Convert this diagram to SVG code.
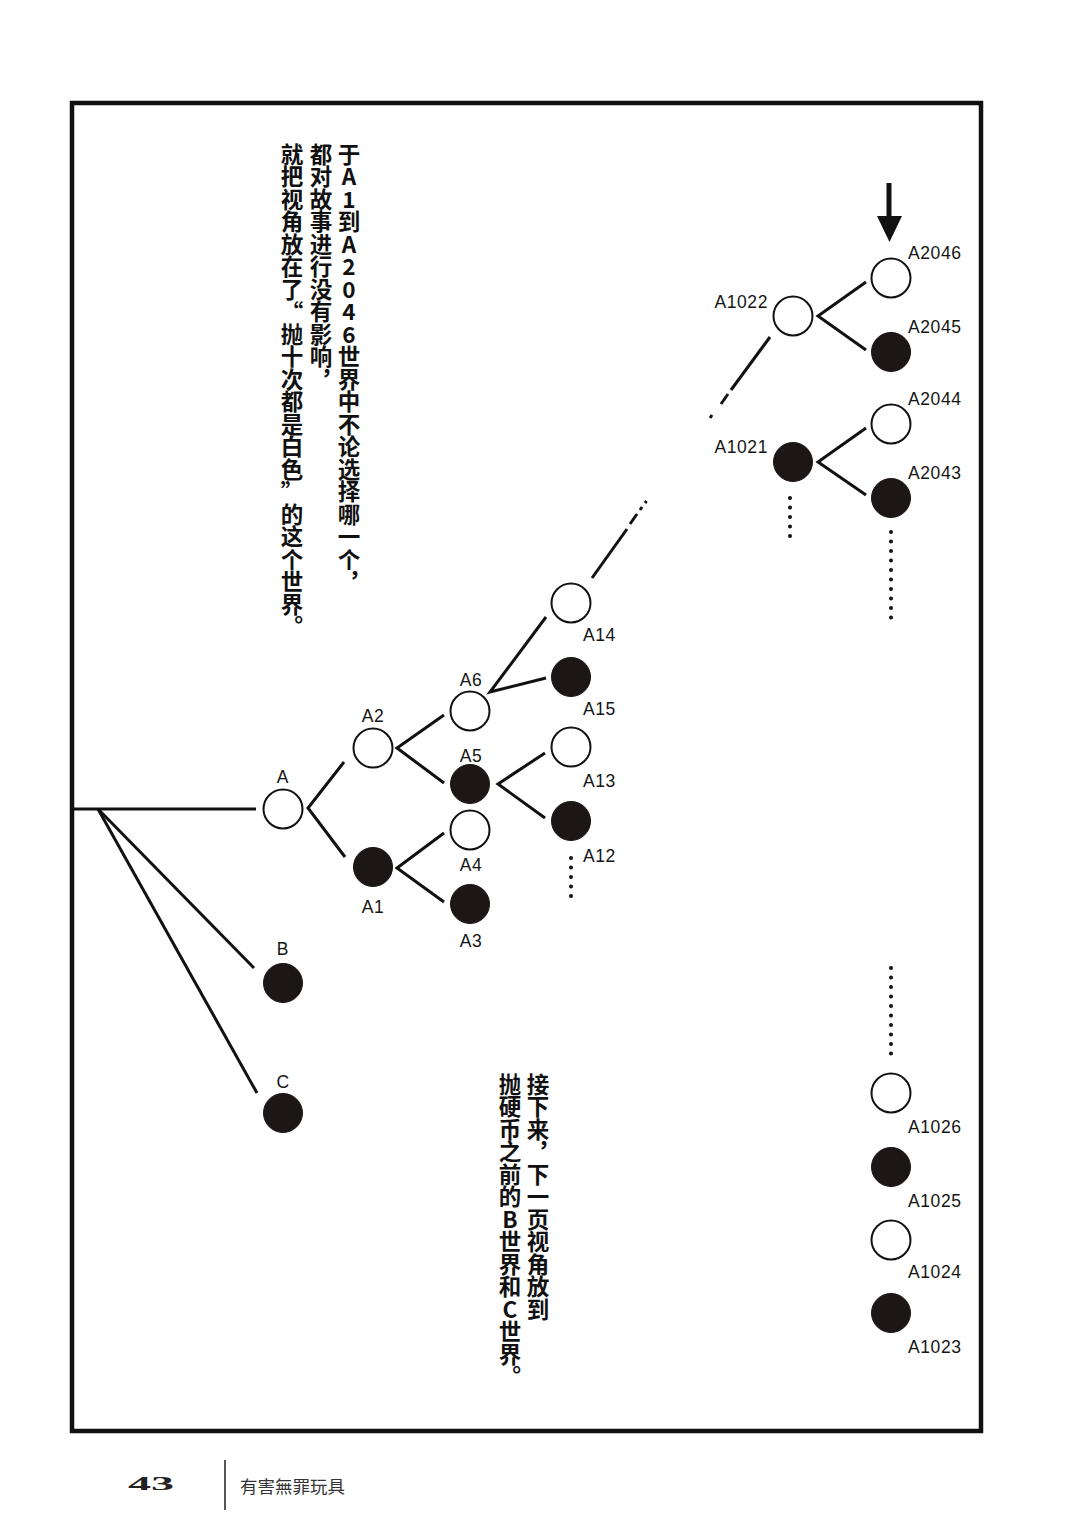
<svg xmlns="http://www.w3.org/2000/svg" width="1080" height="1536" viewBox="0 0 1080 1536">
<style>
.frame{fill:none;stroke:#111;stroke-width:4.5}
.ln{stroke:#111;stroke-width:3;fill:none;stroke-linecap:butt}
.dot{stroke:#111;stroke-width:4;stroke-linecap:round;stroke-dasharray:0 9.5;fill:none}
.w{fill:#fff;stroke:#111;stroke-width:2}
.b{fill:#1c1616;stroke:#1c1616;stroke-width:1}
.lab{font-family:"Liberation Sans",Arial,sans-serif;font-size:17.5px;fill:#151515;letter-spacing:0.6px}
.c{text-anchor:middle}
.e{text-anchor:end}
.vt{font-family:"Noto Sans CJK SC",sans-serif;font-size:22.5px;font-weight:bold;fill:#111;writing-mode:vertical-rl;text-orientation:upright}
.q{font-feature-settings:"vert" 0,"vrt2" 0}
</style>
<rect class="frame" x="72" y="103" width="909" height="1328"/>

<g id="connectors">
<line class="ln" x1="72" y1="809" x2="256" y2="809"/>
<line class="ln" x1="98" y1="809" x2="254" y2="968"/>
<line class="ln" x1="98" y1="809" x2="257" y2="1093"/>
<polyline class="ln" points="344,762 308,808 345,857"/>
<polyline class="ln" points="444,715 397,748 444,783"/>
<polyline class="ln" points="444,833 397,868 444,902"/>
<polyline class="ln" points="546,617 490,692 546,678"/>
<polyline class="ln" points="545,753 498,784 545,818"/>
<line class="ln" x1="592" y1="578" x2="627" y2="529"/>
<line class="ln" x1="630" y1="524" x2="637" y2="514"/>
<line class="ln" x1="640" y1="510" x2="642" y2="507"/>
<line class="ln" x1="645" y1="503" x2="646.5" y2="501"/>
<polyline class="ln" points="866,282 818,316 866,350"/>
<polyline class="ln" points="866,428 818,462 866,495"/>
<line class="ln" x1="770" y1="337" x2="731" y2="390"/>
<line class="ln" x1="728" y1="394" x2="721" y2="404"/>
<line class="ln" x1="712" y1="415" x2="710" y2="418"/>
<line class="dot" x1="571" y1="858" x2="571" y2="903"/>
<line class="dot" x1="790" y1="498" x2="790" y2="544"/>
<line class="dot" x1="891" y1="532" x2="891" y2="621"/>
<line class="dot" x1="891" y1="968" x2="891" y2="1056"/>
<rect x="886.5" y="183" width="5" height="35" fill="#111"/>
<polygon points="877,216 902,216 889.5,242" fill="#111"/>
</g>

<g id="node-A"><circle class="w" cx="283" cy="809" r="19.5"/><text class="lab c" x="283" y="783">A</text></g>
<g id="node-B"><circle class="b" cx="283" cy="983" r="19.5"/><text class="lab c" x="283" y="955">B</text></g>
<g id="node-C"><circle class="b" cx="283" cy="1113" r="19.5"/><text class="lab c" x="283" y="1088">C</text></g>
<g id="node-A2"><circle class="w" cx="373" cy="748" r="19.5"/><text class="lab c" x="373" y="722">A2</text></g>
<g id="node-A1"><circle class="b" cx="373" cy="867" r="19.5"/><text class="lab c" x="373" y="913">A1</text></g>
<g id="node-A6"><circle class="w" cx="470" cy="711" r="19.5"/><text class="lab c" x="471" y="686">A6</text></g>
<g id="node-A5"><circle class="b" cx="470" cy="784" r="19.5"/><text class="lab c" x="471" y="762">A5</text></g>
<g id="node-A4"><circle class="w" cx="470" cy="830" r="19.5"/><text class="lab c" x="471" y="871">A4</text></g>
<g id="node-A3"><circle class="b" cx="470" cy="904" r="19.5"/><text class="lab c" x="471" y="947">A3</text></g>
<g id="node-A14"><circle class="w" cx="571" cy="603" r="19.5"/><text class="lab" x="583" y="641">A14</text></g>
<g id="node-A15"><circle class="b" cx="571" cy="677" r="19.5"/><text class="lab" x="583" y="715">A15</text></g>
<g id="node-A13"><circle class="w" cx="571" cy="747" r="19.5"/><text class="lab" x="583" y="787">A13</text></g>
<g id="node-A12"><circle class="b" cx="571" cy="821" r="19.5"/><text class="lab" x="583" y="862">A12</text></g>
<g id="node-A1022"><circle class="w" cx="793" cy="316" r="19.5"/><text class="lab e" x="768" y="308">A1022</text></g>
<g id="node-A1021"><circle class="b" cx="793" cy="462" r="19.5"/><text class="lab e" x="768" y="453">A1021</text></g>
<g id="node-A2046"><circle class="w" cx="891" cy="278" r="19.5"/><text class="lab" x="908" y="259">A2046</text></g>
<g id="node-A2045"><circle class="b" cx="891" cy="352" r="19.5"/><text class="lab" x="908" y="333">A2045</text></g>
<g id="node-A2044"><circle class="w" cx="891" cy="424" r="19.5"/><text class="lab" x="908" y="405">A2044</text></g>
<g id="node-A2043"><circle class="b" cx="891" cy="498" r="19.5"/><text class="lab" x="908" y="479">A2043</text></g>
<g id="node-A1026"><circle class="w" cx="891" cy="1093" r="19.5"/><text class="lab" x="908" y="1133">A1026</text></g>
<g id="node-A1025"><circle class="b" cx="891" cy="1167" r="19.5"/><text class="lab" x="908" y="1207">A1025</text></g>
<g id="node-A1024"><circle class="w" cx="891" cy="1240" r="19.5"/><text class="lab" x="908" y="1278">A1024</text></g>
<g id="node-A1023"><circle class="b" cx="891" cy="1313" r="19.5"/><text class="lab" x="908" y="1353">A1023</text></g>

<g id="caption-top">
<text class="vt" x="349" y="143">于A1到A2046世界中不论选择哪一个，</text>
<text class="vt" x="321" y="143">都对故事进行没有影响，</text>
<text class="vt" x="292" y="143">就把视角放在了<tspan class="q">“</tspan>抛十次都是白色<tspan class="q">”</tspan>的这个世界。</text>
</g>
<g id="caption-bottom">
<text class="vt" x="538" y="1073">接下来，下一页视角放到</text>
<text class="vt" x="510" y="1073">抛硬币之前的B世界和C世界。</text>
</g>

<g id="footer">
<text x="128" y="1490" font-family="Liberation Serif,serif" font-weight="bold" font-size="18" fill="#222" textLength="46" lengthAdjust="spacingAndGlyphs">43</text>
<line x1="225" y1="1460" x2="225" y2="1510" stroke="#555" stroke-width="2"/>
<text x="240" y="1493" font-family="Noto Sans CJK TC,sans-serif" font-size="17" fill="#333" textLength="105" lengthAdjust="spacingAndGlyphs">有害無罪玩具</text>
</g>
</svg>
